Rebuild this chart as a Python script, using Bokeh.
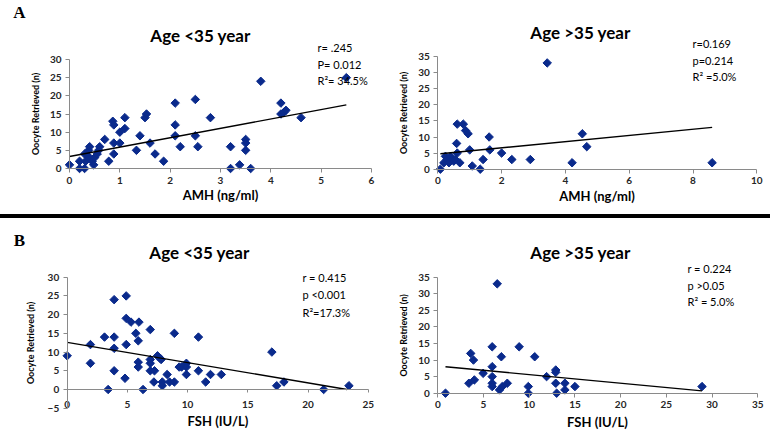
import math
from bokeh.plotting import figure
from bokeh.models import Label, LinearAxis, FixedTicker, Range1d, ColumnDataSource, Div
from bokeh.layouts import column, row
from bokeh.embed import file_html
from bokeh.resources import INLINE

# ---------------- data ----------------
# Panel A, Age <35: AMH (ng/ml) vs oocytes retrieved
amh_young = [0, 0.2, 0.2, 0.3, 0.3, 0.32, 0.38, 0.4, 0.4, 0.45, 0.48, 0.5, 0.55, 0.6, 0.58,
             0.7, 0.78, 0.86, 0.88, 0.88, 0.88, 1.0, 1.0, 1.1, 1.1, 1.33, 1.4, 1.5, 1.53, 1.6,
             1.7, 1.87, 2.1, 2.1, 2.1, 2.2, 2.5, 2.5, 2.55, 2.8, 3.2, 3.2, 3.38, 3.5, 3.5,
             3.5, 3.6, 3.8, 4.2, 4.2, 4.26, 4.3, 4.6, 5.5]
oocyte_amh_young = [1, 2, 0, 0, 4, 2, 5, 6, 3, 2, 1, 3, 4, 6, 5,
                    8, 2, 13, 12, 7, 4, 7, 10, 11, 14, 5, 9, 14, 15, 7,
                    4, 2, 18, 12, 9, 6, 19, 9, 6, 14, 6, 0, 1, 8, 7,
                    5, 0, 24, 18, 15, 15.5, 16, 14, 25]
trend_amh_young_x = [0, 5.5]
trend_amh_young_y = [3.3, 17.5]

# Panel A, Age >35
amh_old = [0.08, 0.19, 0.24, 0.3, 0.35, 0.4, 0.45, 0.5, 0.55, 0.59, 0.61, 0.61, 0.69, 0.8, 0.87,
           0.95, 1.0, 1.08, 1.33, 1.42, 1.61, 1.63, 2.0, 2.32, 2.9, 3.43, 4.21, 4.53, 4.67, 8.6]
oocyte_amh_old = [0, 2, 4, 3, 2, 4, 3, 2.5, 3, 8, 14, 5, 2, 14, 12,
                  11, 6, 1, 0, 3, 10, 6, 5, 3, 3, 33, 2, 11, 7, 2]
trend_amh_old_x = [0.08, 8.6]
trend_amh_old_y = [4.8, 13.0]

# Panel B, Age <35: FSH (IU/L) vs oocytes retrieved
fsh_young = [0, 1.93, 1.93, 3.1, 3.4, 3.9, 3.9, 3.9, 3.9, 4.9, 4.9, 5.3, 5.96, 4.9, 4.8,
             5.7, 5.9, 5.9, 5.9, 6.3, 6.9, 6.9, 6.9, 6.9, 7.25, 7.2, 7.5, 7.7, 7.8, 7.9,
             7.9, 8.3, 8.5, 8.9, 8.9, 9.3, 9.5, 9.9, 9.9, 9.9, 10.9, 10.9, 11.5, 11.9, 12.8,
             17.0, 17.4, 18.0, 21.3, 23.4]
oocyte_fsh_young = [9, 12, 7, 14, 0, 24, 14, 11, 5, 25, 19, 18, 18, 12, 3,
                    15, 13, 7.3, 6, 0, 16, 8, 7, 5, 5, 2, 9, 8.4, 8, 2,
                    1, 4, 2, 15, 2, 6, 6, 7, 6, 4, 14, 5, 2, 4, 4,
                    10, 1, 2, 0, 1]
trend_fsh_young_x = [0, 23.25]
trend_fsh_young_y = [12.6, 0]

# Panel B, Age >35
fsh_old = [0.84, 3.4, 3.6, 3.9, 4.0, 4.96, 5.95, 5.95, 5.95, 5.95, 5.95, 6.5, 6.75, 6.95, 7.05,
           7.6, 8.9, 9.9, 9.9, 10.6, 11.9, 12.9, 12.9, 12.9, 13.0, 13.9, 13.9, 15.0, 28.9]
oocyte_fsh_old = [0, 3, 12, 10, 4, 6, 14, 8, 5, 3, 2, 33, 1, 11, 2,
                  3, 14, 2, 0, 11, 5, 7, 6.3, 3, 0, 3, 1, 2, 2]
trend_fsh_old_x = [0.84, 28.9]
trend_fsh_old_y = [8.0, 0.7]

ticks_amh_young_x = [0, 1, 2, 3, 4, 5, 6]
ticks_amh_old_x = [0, 2, 4, 6, 8, 10]
ticks_fsh_young_x = [0, 5, 10, 15, 20, 25]
ticks_fsh_old_x = [0, 5, 10, 15, 20, 25, 30, 35]
ticks_y30 = [0, 5, 10, 15, 20, 25, 30]
ticks_y35 = [0, 5, 10, 15, 20, 25, 30, 35]
ticks_y_neg = [-5, 0, 5, 10, 15, 20, 25, 30]

stats_amh_young = ["r= .245", "P= 0.012", "R\u00b2= 34.5%"]
stats_amh_old = ["r=0.169", "p=0.214", "R\u00b2 =5.0%"]
stats_fsh_young = ["r = 0.415", "p <0.001", "R\u00b2=17.3%"]
stats_fsh_old = ["r = 0.224", "p >0.05", "R\u00b2 = 5.0%"]

# ---------------- styling ----------------
FONT = "Lato"
MARK = "#0A2A8C"
AXIS_GRAY = "#8a8a8a"
TICK_TXT = "#262626"


def style_axis(ax):
    ax.axis_line_color = AXIS_GRAY
    ax.major_tick_line_color = AXIS_GRAY
    ax.minor_tick_line_color = None
    ax.major_tick_in = 0
    ax.major_tick_out = 4
    ax.major_label_text_font = FONT
    ax.major_label_text_font_size = "10px"
    ax.major_label_text_font_style = "bold"
    ax.major_label_text_color = TICK_TXT
    ax.axis_label_text_font = FONT
    ax.axis_label_text_font_style = "bold"
    ax.axis_label_text_color = "black"


def make_panel(x, y, tx, ty, xr, yr, xticks, yticks, xlabel, title, stats,
               fig, frame, title_pos, stats_pos, stats_dy, ylab_standoff=6,
               xlab_standoff=0, xlabel_standoff=4, letter=None):
    fx, fy, fw, fh = fig
    L, T, W, H = frame
    sx_ = (xr[1] - xr[0]) / W
    sy_ = (yr[1] - yr[0]) / H
    x_start = xr[0] + (fx - L) * sx_
    x_end = xr[0] + (fx + fw - L) * sx_
    y_end = yr[1] + (T - fy) * sy_
    y_start = yr[1] - (fy + fh - T) * sy_

    p = figure(width=fw, height=fh, x_range=Range1d(x_start, x_end),
               y_range=Range1d(y_start, y_end),
               toolbar_location=None, output_backend="svg",
               x_axis_location=None, y_axis_location=None, min_border=0,
               outline_line_color=None, background_fill_color="white",
               border_fill_color="white")
    p.title.visible = False
    p.grid.visible = False

    def to_data(px, py):
        return xr[0] + (px - L) * sx_, yr[1] - (py - T) * sy_

    src = ColumnDataSource(dict(x=x, y=y))
    p.scatter("x", "y", source=src, marker="square", size=6, angle=math.pi / 4,
              fill_color=MARK, line_color=MARK)
    p.line(tx, ty, line_color="black", line_width=1.4)

    x0_loc = 0 if yr[0] < 0 else yr[0]
    xa = LinearAxis(fixed_location=x0_loc, bounds=xr, ticker=FixedTicker(ticks=xticks))
    style_axis(xa)
    if yr[0] < 0:
        xa.major_tick_out = 3
    xa.major_label_standoff = xlabel_standoff
    xa.axis_label = xlabel
    xa.axis_label_text_font_size = "13px"
    xa.axis_label_standoff = xlab_standoff
    p.add_layout(xa, "below")

    ya = LinearAxis(fixed_location=xr[0], bounds=yr, ticker=FixedTicker(ticks=yticks))
    style_axis(ya)
    ya.major_label_standoff = 4
    ya.axis_label = "Oocyte Retrieved (n)"
    ya.axis_label_text_font_size = "9px"
    ya.axis_label_standoff = ylab_standoff
    p.add_layout(ya, "left")

    tx_, ty_ = to_data(*title_pos)
    p.add_layout(Label(x=tx_, y=ty_, text=title, text_align="center", text_baseline="middle",
                       text_font=FONT, text_font_style="bold", text_font_size="17px",
                       text_color="black"))
    for i, s in enumerate(stats):
        lx, ly = to_data(stats_pos[0], stats_pos[1] + i * stats_dy)
        p.add_layout(Label(x=lx, y=ly, text=s, text_align="left", text_baseline="middle",
                           text_font=FONT, text_font_size="11px", text_color="black"))
    if letter is not None:
        lx, ly = to_data(letter[1], letter[2])
        p.add_layout(Label(x=lx, y=ly, text=letter[0], text_align="center", text_baseline="middle",
                           text_font="Liberation Serif", text_font_style="bold",
                           text_font_size="17px", text_color="black"))
    return p


TOP_H = 214
SEP_H = 4
BOT_H = 216
BOT_Y = TOP_H + SEP_H

a1 = make_panel(amh_young, oocyte_amh_young, trend_amh_young_x, trend_amh_young_y,
                (0, 6), (0, 30), ticks_amh_young_x, ticks_y30,
                "AMH (ng/ml)", "Age <35 year", stats_amh_young,
                fig=(0, 0, 385, TOP_H), frame=(69, 59, 302, 109),
                title_pos=(200, 35), stats_pos=(317, 47), stats_dy=16.5,
                letter=("A", 19, 12))
a2 = make_panel(amh_old, oocyte_amh_old, trend_amh_old_x, trend_amh_old_y,
                (0, 10), (0, 35), ticks_amh_old_x, ticks_y35,
                "AMH (ng/ml)", "Age >35 year", stats_amh_old,
                fig=(385, 0, 385, TOP_H), frame=(437.3, 56, 319, 112.7),
                title_pos=(580, 32), stats_pos=(692, 43), stats_dy=16.7)
b1 = make_panel(fsh_young, oocyte_fsh_young, trend_fsh_young_x, trend_fsh_young_y,
                (0, 25), (-5, 30), ticks_fsh_young_x, ticks_y_neg,
                "FSH (IU/L)", "Age <35 year", stats_fsh_young,
                fig=(0, BOT_Y, 385, BOT_H), frame=(66.7, 276.7, 301, 131),
                title_pos=(199, 252), stats_pos=(302, 277), stats_dy=17.3,
                ylab_standoff=9, xlabel_standoff=9, xlab_standoff=1,
                letter=("B", 19, 240))
b2 = make_panel(fsh_old, oocyte_fsh_old, trend_fsh_old_x, trend_fsh_old_y,
                (0, 35), (0, 35), ticks_fsh_old_x, ticks_y35,
                "FSH (IU/L)", "Age >35 year", stats_fsh_old,
                fig=(385, BOT_Y, 385, BOT_H), frame=(437.3, 276.7, 320, 116),
                title_pos=(580, 252), stats_pos=(687, 268), stats_dy=16.5,
                xlab_standoff=2)

sep = Div(text="", width=770, height=SEP_H, margin=0,
          styles={"background-color": "black"})

layout = column(row(a1, a2, spacing=0), sep, row(b1, b2, spacing=0), spacing=0)

open("out.html", "w").write(file_html(layout, INLINE))
